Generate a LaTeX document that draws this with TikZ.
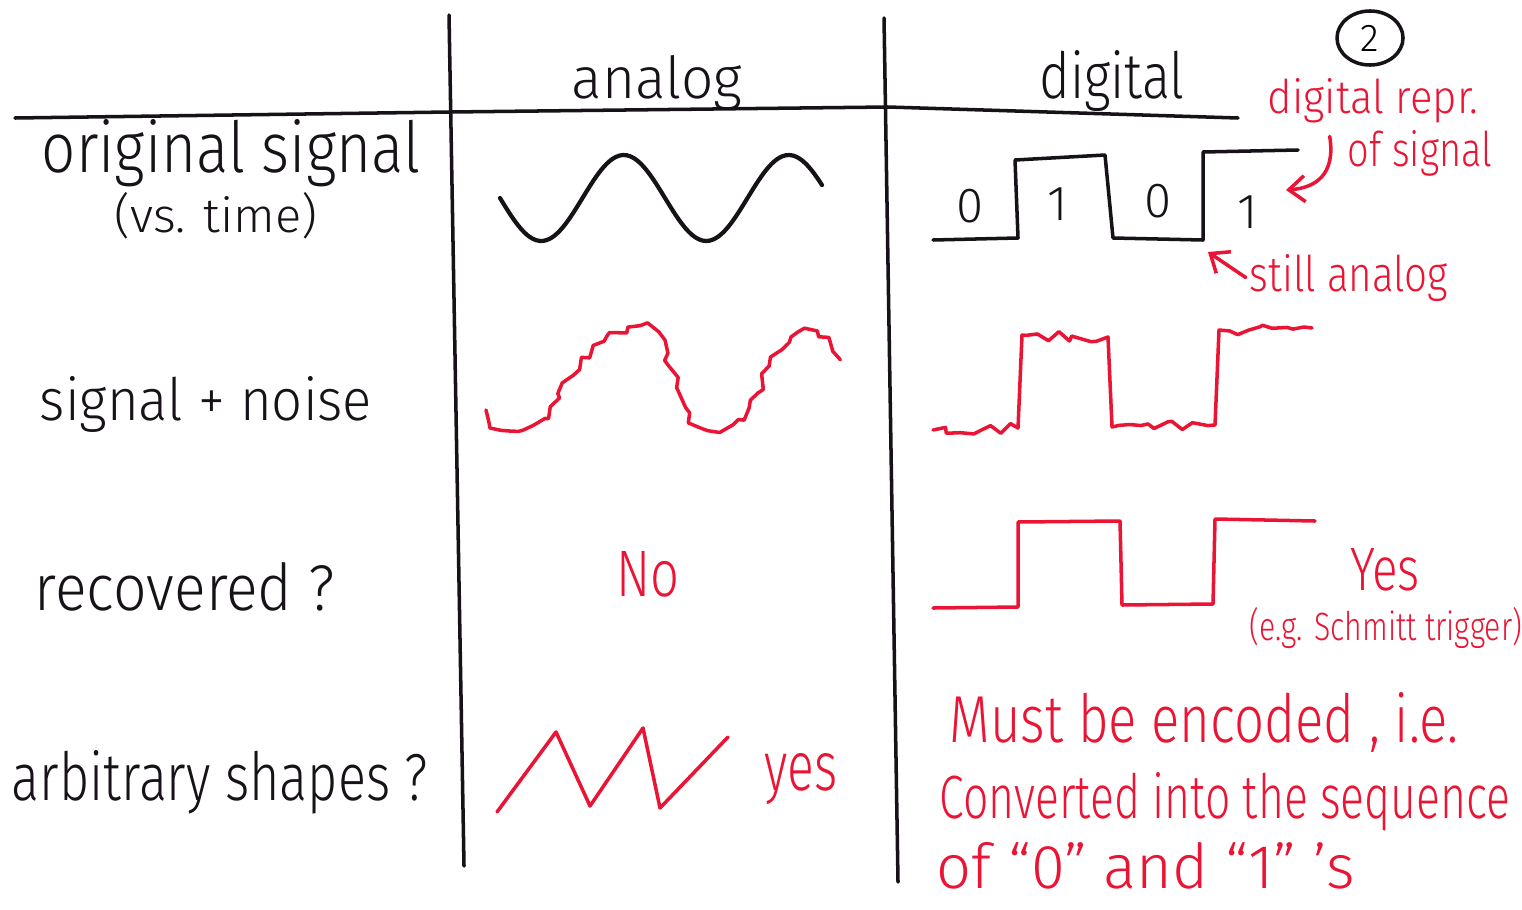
\documentclass[tikz,border=0pt]{standalone}
\usepackage{fontspec}
\setmainfont{Fira Sans Light}
\usepackage{graphicx}
\usetikzlibrary{arrows.meta,decorations.pathmorphing,shapes.geometric}
\definecolor{inkred}{RGB}{234,20,52}
\definecolor{ink}{RGB}{22,18,24}
\newcommand\fwh[3]{\resizebox{#1}{#2}{#3}}
\begin{document}
\begin{tikzpicture}[x=0.01cm,y=-0.01cm,
  blk/.style={draw=ink, line width=1pt, line cap=round, line join=round},
  redl/.style={draw=inkred, line width=1pt, line cap=round, line join=round},
  lbl/.style={anchor=base, inner sep=0pt, text=ink},
  rlbl/.style={anchor=base, inner sep=0pt, text=inkred},
  noisy/.style={decoration={random steps, segment length=2.6pt, amplitude=1.5pt}},
  redarrow/.style={redl, -{Straight Barb[length=1.6mm,width=2.6mm]}},
  digit/.style={lbl, font=\fontsize{14}{14}\selectfont}]
\useasboundingbox (0,0) rectangle (1522,909);
\pgfmathsetseed{11}
% grid lines
\draw[blk] (15,118) -- (450,112) -- (888,107) -- (1238,118);
\draw[blk] (449,15) -- (464,866);
\draw[blk] (884,18) -- (898,882);
% column headings
\node[lbl] (analog) at (657,98) {\fwh{1.70cm}{0.43cm}{analog}};
\node[lbl] (digital) at (1112,98) {\fwh{1.45cm}{0.48cm}{digital}};
\node[blk, ellipse, minimum width=0.66cm, minimum height=0.54cm, inner sep=0pt] (two) at (1370,38) {\fontsize{11}{11}\selectfont 2};
% row labels
\node[lbl] (orig) at (231,172) {\fwh{3.78cm}{0.53cm}{original signal}};
\node[lbl] (vstime) at (216,232) {\fwh{2.03cm}{0.40cm}{(vs. time)}};
\node[lbl] (noise) at (206,420) {\fwh{3.32cm}{0.44cm}{signal + noise}};
\node[lbl] (recov) at (185,610) {\fwh{3.00cm}{0.48cm}{recovered ?}};
\node[lbl] (arbit) at (220,800) {\fwh{4.16cm}{0.50cm}{arbitrary shapes ?}};
% original analog signal
\draw[blk, line width=1.2pt] plot[domain=500:822, samples=90, smooth] (\x, {198+43*sin(2.1818*(\x-500))});
% original digital signal
\draw[blk] (933,240) -- (1018,238) -- (1015,160) -- (1105,155) -- (1113,238) -- (1203,240) -- (1203,152) -- (1298,150);
\node[digit] (b1) at (970,222) {0};
\node[digit] (b2) at (1058,220) {1};
\node[digit] (b3) at (1158,217) {0};
\node[digit] (b4) at (1248,228) {1};
% red annotations
\node[rlbl] (repr) at (1373,113) {\fwh{2.10cm}{0.35cm}{digital repr.}};
\node[rlbl] (ofsig) at (1420,166) {\fwh{1.44cm}{0.36cm}{of signal}};
\coordinate (reprTip) at (1286,190);
\draw[redarrow] ([xshift=-5pt,yshift=-2pt]ofsig.north west) .. controls (1336,175) and (1315,188) .. (reprTip);
\node[rlbl] (still) at (1349,291) {\fwh{1.98cm}{0.37cm}{still analog}};
\coordinate (stillTip) at (1208,252);
\draw[redarrow] ([xshift=-1pt]still.west) -- (stillTip);
% signal + noise, analog
\draw[redl, noisy, decorate] (486,410) -- (490,428) .. controls (520,430) and (540,428) .. (548,418) .. controls (570,380) and (585,335) .. (640,326) .. controls (660,325) and (665,350) .. (680,395) .. controls (690,425) and (700,432) .. (720,430) .. controls (760,425) and (770,330) .. (805,330) .. controls (825,330) and (832,345) .. (840,360);
% signal + noise, digital
\draw[redl, noisy] (933,430) decorate{-- (1018,428)} -- (1022,335) decorate{-- (1108,337)} -- (1112,427) decorate{-- (1215,425)} -- (1219,330) decorate{-- (1312,328)};
% recovered
\node[rlbl] (no) at (648,596) {\fwh{0.63cm}{0.45cm}{No}};
\draw[redl] (933,608) -- (1018,607) -- (1018,522) -- (1120,521) -- (1122,605) -- (1213,604) -- (1215,519) -- (1315,521);
\node[rlbl] (yes1) at (1385,590) {\fwh{0.70cm}{0.42cm}{Yes}};
\node[rlbl] (schmitt) at (1386,640) {\fwh{2.72cm}{0.33cm}{(e.g. Schmitt trigger)}};
% arbitrary shapes
\draw[redl] (497,812) -- (556,732) -- (590,806) -- (643,728) -- (660,808) -- (728,737);
\node[rlbl] (yes2) at (801,790) {\fwh{0.73cm}{0.37cm}{yes}};
\node[rlbl] (enc1) at (1204,742) {\fwh{5.08cm}{0.50cm}{Must be encoded , i.e.}};
\node[rlbl] (enc2) at (1225,818) {\fwh{5.70cm}{0.46cm}{Converted into the sequence}};
\node[rlbl] (enc3) at (1146,888) {\fwh{4.18cm}{0.46cm}{of “0” and “1” ’s}};
\end{tikzpicture}
\end{document}
